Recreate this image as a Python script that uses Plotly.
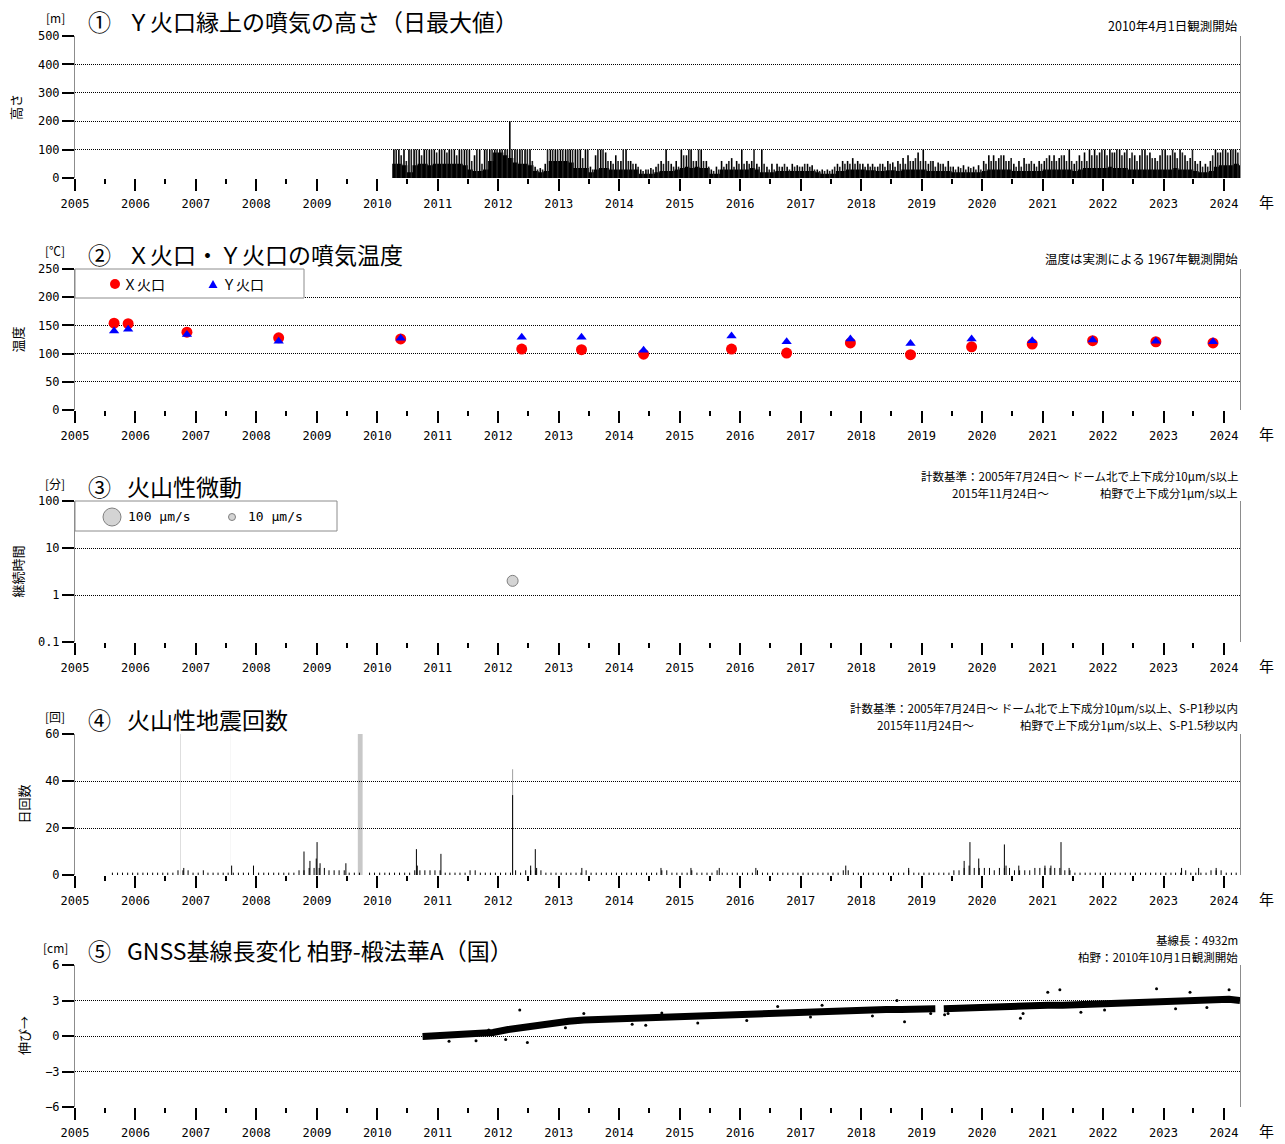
import pandas as pd
import plotly.graph_objects as go

# ---------------- DATA ----------------
# Panel 1: plume height above Y crater (monthly typical level / monthly peaks), from 2010-04
h_start = "2010-04-01"
h_base = [
    50, 50, 45, 20, 45, 50, 50, 45, 50,                      # 2010 Apr-Dec
    50, 50, 50, 50, 50, 45, 30, 25, 25, 30, 60, 90,          # 2011
    90, 80, 70, 55, 50, 50, 45, 25, 20, 25, 60, 60,          # 2012
    60, 60, 55, 35, 35, 35, 20, 30, 35, 35, 30, 30,          # 2013
    30, 30, 30, 30, 15, 15, 15, 20, 25, 25, 25, 30,          # 2014
    35, 40, 35, 40, 35, 35, 15, 15, 30, 30, 30, 30,          # 2015
    30, 30, 35, 30, 20, 20, 20, 25, 25, 25, 25, 25,          # 2016
    25, 25, 25, 20, 15, 15, 15, 25, 25, 30, 30, 30,          # 2017
    30, 27, 27, 25, 25, 27, 27, 25, 30, 30, 30, 30,          # 2018
    30, 25, 25, 25, 25, 25, 20, 20, 20, 20, 20, 20,          # 2019
    25, 30, 30, 30, 30, 30, 25, 25, 25, 25, 25, 25,          # 2020
    30, 30, 30, 30, 30, 30, 25, 30, 35, 35, 35, 35,          # 2021
    35, 40, 35, 35, 35, 30, 30, 30, 30, 30, 30, 30,          # 2022
    30, 30, 35, 30, 30, 30, 25, 20, 20, 25, 40, 45,          # 2023
    45, 45, 50, 45,                                          # 2024 Jan-Apr
]
h_peak = [
    100, 100, 100, 100, 100, 100, 100, 100, 100,
    100, 100, 100, 100, 100, 100, 100, 80, 100, 100, 100, 100,
    100, 100, 200, 100, 100, 100, 100, 40, 35, 50, 100, 100,
    100, 100, 100, 100, 100, 100, 40, 80, 100, 90, 60, 80,
    60, 100, 60, 50, 30, 30, 35, 40, 60, 100, 50, 60,
    100, 80, 100, 60, 100, 60, 30, 40, 60, 50, 70, 60,
    100, 60, 60, 50, 100, 40, 50, 50, 40, 40, 50, 45,
    40, 50, 45, 30, 30, 30, 30, 50, 60, 60, 70, 60,
    50, 50, 50, 40, 50, 60, 55, 60, 70, 80, 60, 90,
    100, 50, 60, 55, 50, 60, 40, 40, 45, 40, 40, 45,
    60, 80, 80, 70, 80, 60, 50, 60, 70, 50, 50, 60,
    60, 80, 80, 70, 80, 100, 50, 80, 90, 100, 100, 90,
    100, 100, 90, 100, 90, 70, 80, 80, 100, 90, 70, 80,
    100, 80, 90, 100, 80, 70, 60, 60, 50, 60, 100, 90,
    100, 100, 100, 100,
]
h_peak2 = [
    100, 80, 60, 100, 100, 80, 100, 100, 90,
    100, 90, 100, 80, 100, 100, 60, 100, 50, 100, 100, 100,
    100, 100, 100, 100, 100, 100, 60, 30, 30, 100, 100, 100,
    100, 100, 100, 100, 70, 100, 30, 100, 100, 60, 50, 60,
    100, 60, 50, 40, 25, 30, 30, 50, 50, 60, 40, 40,
    80, 100, 60, 100, 60, 40, 25, 30, 40, 60, 40, 50,
    50, 50, 100, 40, 50, 30, 30, 40, 50, 30, 40, 40,
    50, 40, 30, 25, 25, 25, 40, 40, 50, 50, 50, 50,
    40, 40, 40, 50, 40, 50, 40, 50, 50, 60, 70, 60,
    60, 60, 40, 50, 40, 40, 30, 35, 30, 35, 30, 30,
    50, 60, 60, 80, 60, 70, 40, 40, 50, 60, 40, 50,
    70, 60, 60, 80, 60, 60, 60, 60, 60, 80, 80, 100,
    80, 90, 100, 80, 100, 90, 60, 100, 80, 70, 60, 100,
    80, 100, 70, 90, 60, 100, 50, 40, 40, 80, 90, 100,
    90, 100, 90, 100,
]

# Panel 2: fumarole temperatures
t_dates = ["2005-08-25", "2005-11-18", "2006-11-08", "2008-05-15", "2010-05-22",
           "2012-05-22", "2013-05-18", "2014-05-28", "2015-11-10", "2016-10-08",
           "2017-10-28", "2018-10-26", "2019-10-30", "2020-10-30", "2021-10-30",
           "2022-11-16", "2023-10-27"]
t_x = [154, 153, 138, 128, 126, 108, 107, 99, 108, 101, 119, 98, 112, 117, 123, 121, 119]
t_y = [140, 143, 134, 122, 127, 129, 129, 106, 131, 121, 126, 118, 126, 123, 124, 122, 121]

# Panel 3: volcanic tremor (duration, minutes)
tr_dates = ["2012-03-28"]
tr_dur = [2.0]

# Panel 4: volcanic earthquakes per day (monthly max level from 2005-08, plus notable days)
eq_start = "2005-08-01"
eq_monthly = [
    1, 1, 1, 1, 1,                                # 2005 Aug-Dec
    1, 1, 1, 1, 1, 1, 1, 1, 2, 2, 2, 1,           # 2006
    1, 2, 1, 1, 1, 1, 1, 1, 1, 1, 1, 1,           # 2007
    1, 1, 1, 1, 1, 1, 1, 1, 2, 2, 3, 3,           # 2008
    3, 3, 2, 2, 2, 2, 1, 1, 1, 0, 1, 1,           # 2009
    1, 1, 1, 1, 1, 1, 1, 2, 2, 2, 2, 2,           # 2010
    2, 1, 1, 1, 1, 1, 2, 2, 1, 1, 1, 1,           # 2011
    1, 1, 1, 2, 1, 2, 2, 2, 2, 1, 1, 1,           # 2012
    1, 1, 1, 1, 1, 2, 1, 1, 1, 1, 1, 1,           # 2013
    1, 1, 1, 1, 1, 1, 1, 1, 2, 2, 1, 1,           # 2014
    1, 1, 2, 1, 1, 1, 1, 2, 1, 1, 1, 1,           # 2015
    1, 1, 1, 2, 1, 1, 1, 1, 1, 1, 1, 1,           # 2016
    1, 1, 1, 1, 1, 1, 1, 1, 2, 2, 1, 1,           # 2017
    1, 1, 1, 1, 1, 1, 1, 1, 1, 2, 1, 1,           # 2018
    1, 1, 1, 1, 1, 1, 2, 2, 3, 4, 3, 3,           # 2019
    3, 3, 2, 3, 3, 3, 2, 2, 2, 2, 3, 3,           # 2020
    3, 3, 3, 3, 2, 2, 1, 1, 1, 1, 1, 1,           # 2021
    1, 1, 1, 1, 1, 1, 1, 1, 1, 1, 1, 1,           # 2022
    1, 1, 1, 1, 2, 1, 1, 1, 1, 2, 2, 2,           # 2023
    1, 1, 1, 1,                                   # 2024 Jan-Apr
]
eq_spike_dates = ["2006-10-20", "2007-08-05", "2007-12-15", "2008-10-15", "2008-11-20",
                  "2008-12-28", "2009-01-02", "2009-01-20", "2009-06-25", "2010-08-25",
                  "2010-08-30", "2011-01-20", "2012-03-28", "2012-07-15", "2012-08-12",
                  "2012-08-20", "2013-05-20", "2014-09-10", "2015-03-10", "2015-08-28",
                  "2016-04-05", "2017-09-30", "2018-10-15", "2019-09-15", "2019-10-20",
                  "2019-12-12", "2020-05-15", "2020-05-25", "2020-08-10", "2021-01-15",
                  "2021-02-20", "2021-04-22", "2021-06-10", "2023-04-20", "2023-08-01",
                  "2023-11-15"]
eq_spike_counts = [3, 4, 4, 10, 6, 7, 14, 5, 5, 11, 4, 9, 34, 4, 11, 3, 3, 3, 3, 3,
                   3, 4, 3, 6, 14, 7, 13, 4, 4, 4, 4, 14, 3, 3, 3, 3]
eq_gray_dates = ["2012-03-28"]
eq_gray_counts = [45]
eq_gap_start = ["2006-09-28", "2007-07-30", "2009-09-05"]
eq_gap_end = ["2006-10-01", "2007-08-01", "2009-10-04"]
eq_gap_color = ["#bdbdbd", "#e6e6e6", "#c8c8c8"]

# Panel 5: GNSS baseline change (cm)
gnss_dates = ["2010-10-01", "2010-12-01", "2011-03-01", "2011-06-01", "2011-09-01", "2011-12-01",
              "2012-03-01", "2012-06-01", "2012-09-01", "2012-12-01", "2013-03-01", "2013-06-01",
              "2013-09-01", "2013-12-01", "2014-03-01", "2014-06-01", "2014-09-01", "2014-12-01",
              "2015-03-01", "2015-06-01", "2015-09-01", "2015-12-01", "2016-03-01", "2016-06-01",
              "2016-09-01", "2016-12-01", "2017-03-01", "2017-06-01", "2017-09-01", "2017-12-01",
              "2018-03-01", "2018-06-01", "2018-09-01", "2018-12-01", "2019-03-25", "2019-04-10",
              "2019-05-15", "2019-08-01", "2019-11-01", "2020-02-01", "2020-05-01", "2020-08-01",
              "2020-11-01", "2021-02-01", "2021-05-01", "2021-08-01", "2021-11-01", "2022-02-01",
              "2022-05-01", "2022-08-01", "2022-11-01", "2023-02-01", "2023-05-01", "2023-08-01",
              "2023-11-01", "2024-02-01", "2024-04-07"]
gnss_cm = [-0.05, 0.0, 0.05, 0.05, 0.1, 0.3,
           0.55, 0.75, 0.9, 1.1, 1.25, 1.35,
           1.4, 1.45, 1.5, 1.5, 1.55, 1.6,
           1.65, 1.7, 1.7, 1.75, 1.85, 1.95,
           2.0, 2.05, 2.1, 2.1, 2.15, 2.2,
           2.2, 2.25, 2.25, 2.3, 2.3, None,
           2.3, 2.35, 2.4, 2.4, 2.45, 2.45,
           2.5, 2.6, 2.6, 2.65, 2.7, 2.75,
           2.8, 2.8, 2.85, 2.9, 2.95, 3.0,
           3.05, 3.1, 3.0]
gnss_out_dates = ["2011-03-10", "2011-08-20", "2011-11-05", "2012-05-10", "2012-06-25", "2012-02-15",
                  "2013-02-10", "2013-06-01", "2014-03-20", "2014-06-10", "2014-09-15", "2015-04-20",
                  "2016-02-10", "2016-08-15", "2017-03-01", "2017-05-10", "2018-03-10", "2018-08-05",
                  "2018-09-20", "2019-02-25", "2019-05-20", "2019-06-10", "2020-08-20", "2020-09-05",
                  "2021-02-01", "2021-04-15", "2021-08-20", "2022-01-10", "2022-11-20", "2023-03-15",
                  "2023-06-10", "2023-09-20", "2024-02-01"]
gnss_out_cm = [-0.45, -0.4, 0.5, 2.2, -0.55, -0.3,
               0.7, 1.9, 1.0, 0.9, 1.95, 1.1,
               1.3, 2.5, 1.6, 2.6, 1.7, 3.0,
               1.2, 1.9, 1.8, 1.9, 1.5, 1.9,
               3.7, 3.9, 2.0, 2.2, 4.0, 2.3,
               3.7, 2.4, 3.9]

# ---------------- LAYOUT HELPERS ----------------
W, H = 1285, 1144
JP = "Noto Sans CJK JP"
MONO = "DejaVu Sans Mono"
XL, XR = 75, 1240
TOPS = [36, 269, 501, 734, 965]
BOTS = [178, 410, 642, 875, 1107]
X0, X1 = "2005-01-01", "2024-04-07"


def px(x):
    return x / W


def py(y):
    return 1 - y / H


def spikes(dates, vals, offset_days=0):
    xs, ys = [], []
    for d, v in zip(dates, vals):
        m = pd.Timestamp(d) + pd.Timedelta(days=offset_days)
        xs += [m, m, None]
        ys += [0, v, None]
    return xs, ys


fig = go.Figure()

# Panel 1
h_months = pd.date_range(h_start, periods=len(h_base), freq="MS")
fig.add_trace(go.Scatter(x=list(h_months) + [pd.Timestamp(X1)], y=h_base + [h_base[-1]],
                         mode="lines", line=dict(shape="hv", width=0, color="black"),
                         fill="tozeroy", fillcolor="black", xaxis="x", yaxis="y", showlegend=False))
xs, ys = spikes(h_months, h_peak2, 24)
fig.add_trace(go.Scatter(x=xs, y=ys, mode="lines", line=dict(color="#202020", width=1.6),
                         xaxis="x", yaxis="y", showlegend=False))
xs, ys = spikes(h_months, h_peak, 10)
fig.add_trace(go.Scatter(x=xs, y=ys, mode="lines", line=dict(color="black", width=1.6),
                         xaxis="x", yaxis="y", showlegend=False))

# Panel 2
fig.add_trace(go.Scatter(x=t_dates, y=t_x, mode="markers", name="X火口",
                         marker=dict(symbol="circle", size=11, color="red"),
                         xaxis="x2", yaxis="y2", showlegend=False))
fig.add_trace(go.Scatter(x=t_dates, y=t_y, mode="markers", name="Y火口",
                         marker=dict(symbol="triangle-up", size=9, color="blue"),
                         xaxis="x2", yaxis="y2", showlegend=False))

# Panel 3
fig.add_trace(go.Scatter(x=tr_dates, y=tr_dur, mode="markers",
                         marker=dict(symbol="circle", size=11, color="#d4d4d4",
                                     line=dict(color="#808080", width=1)),
                         xaxis="x3", yaxis="y3", showlegend=False))

# Panel 4
eq_months = pd.date_range(eq_start, periods=len(eq_monthly), freq="MS")
xs, ys = spikes(eq_months, eq_monthly, 14)
fig.add_trace(go.Scatter(x=xs, y=ys, mode="lines", line=dict(color="black", width=1),
                         xaxis="x4", yaxis="y4", showlegend=False))
xs, ys = spikes(eq_gray_dates, eq_gray_counts)
fig.add_trace(go.Scatter(x=xs, y=ys, mode="lines", line=dict(color="#a0a0a0", width=1),
                         xaxis="x4", yaxis="y4", showlegend=False))
xs, ys = spikes(eq_spike_dates, eq_spike_counts)
fig.add_trace(go.Scatter(x=xs, y=ys, mode="lines", line=dict(color="black", width=1),
                         xaxis="x4", yaxis="y4", showlegend=False))

# Panel 5
fig.add_trace(go.Scatter(x=gnss_dates, y=gnss_cm, mode="lines",
                         line=dict(color="black", width=7), connectgaps=False,
                         xaxis="x5", yaxis="y5", showlegend=False))
fig.add_trace(go.Scatter(x=gnss_out_dates, y=gnss_out_cm, mode="markers",
                         marker=dict(color="black", size=3),
                         xaxis="x5", yaxis="y5", showlegend=False))

# Axes
yspecs = [
    dict(range=[0, 500], tickvals=[0, 100, 200, 300, 400, 500]),
    dict(range=[0, 250], tickvals=[0, 50, 100, 150, 200, 250]),
    dict(type="log", range=[-1, 2], tickvals=[0.1, 1, 10, 100], ticktext=["0.1", "1", "10", "100"]),
    dict(range=[0, 60], tickvals=[0, 20, 40, 60]),
    dict(range=[-6, 6], tickvals=[-6, -3, 0, 3, 6]),
]
lay = {}
for i in range(5):
    sfx = "" if i == 0 else str(i + 1)
    dom = [py(BOTS[i]), py(TOPS[i])]
    lay["xaxis" + sfx] = dict(
        type="date", range=[X0, X1], domain=[px(XL), px(XR)], anchor="y" + sfx,
        automargin=False, showgrid=False, zeroline=False, showline=False,
        ticks="outside", ticklen=12, tickwidth=2, tickcolor="black",
        dtick="M12", tick0="2005-01-01", tickformat="%Y", ticklabelstandoff=3,
        tickfont=dict(family=MONO, size=12, color="black"),
        minor=dict(ticks="outside", ticklen=5, tickwidth=2, tickcolor="black",
                   dtick="M6", tick0="2005-01-01", showgrid=False),
        fixedrange=True,
    )
    yd = dict(
        domain=dom, anchor="x" + sfx, automargin=False,
        ticks="outside", ticklen=12, tickwidth=2, tickcolor="black",
        showgrid=True, gridcolor="black", gridwidth=1, griddash="1px,1px",
        showline=True, linecolor="#8c8c8c", linewidth=1, mirror=True,
        zeroline=False, tickfont=dict(family=MONO, size=12, color="black"),
        fixedrange=True,
    )
    yd.update(yspecs[i])
    lay["yaxis" + sfx] = yd

shapes = []
# data gaps in panel 4
for s, e, c in zip(eq_gap_start, eq_gap_end, eq_gap_color):
    shapes.append(dict(type="rect", xref="x4", yref="y4 domain", x0=s, x1=e, y0=0, y1=1,
                       fillcolor=c, line=dict(width=0), layer="below"))

# legend boxes
shapes.append(dict(type="rect", xref="paper", yref="paper", x0=px(75), x1=px(304),
                   y0=py(298), y1=py(269), fillcolor="white", line=dict(color="#8c8c8c", width=1)))
shapes.append(dict(type="circle", xref="paper", yref="paper", x0=px(110), x1=px(120),
                   y0=py(289), y1=py(279), fillcolor="red", line=dict(width=0)))
shapes.append(dict(type="path", xref="paper", yref="paper",
                   path=f"M {px(208.5)},{py(288)} L {px(217.5)},{py(288)} L {px(213)},{py(280)} Z",
                   fillcolor="blue", line=dict(width=0)))
shapes.append(dict(type="rect", xref="paper", yref="paper", x0=px(75), x1=px(337),
                   y0=py(531), y1=py(501), fillcolor="white", line=dict(color="#8c8c8c", width=1)))
shapes.append(dict(type="circle", xref="paper", yref="paper", x0=px(103), x1=px(121),
                   y0=py(526), y1=py(508), fillcolor="#d4d4d4", line=dict(color="#808080", width=1)))
shapes.append(dict(type="circle", xref="paper", yref="paper", x0=px(228.5), x1=px(235.5),
                   y0=py(520.5), y1=py(513.5), fillcolor="#d4d4d4", line=dict(color="#808080", width=1)))

annotations = []


def ann(text, x, y, size, xanchor="left", family=JP, angle=0, align="left"):
    annotations.append(dict(text=text, x=px(x), y=py(y), xref="paper", yref="paper",
                            xanchor=xanchor, yanchor="middle", showarrow=False, textangle=angle,
                            align=align, font=dict(family=family, size=size, color="black")))


units = ["[m]", "[℃]", "[分]", "[回]", "[cm]"]
nums = ["①", "②", "③", "④", "⑤"]
titles = ["Ｙ火口縁上の噴気の高さ（日最大値）", "Ｘ火口・Ｙ火口の噴気温度", "火山性微動",
          "火山性地震回数", "GNSS基線長変化 柏野-椴法華A（国）"]
ylabels = ["高さ", "温度", "継続時間", "日回数", "伸び→"]
ylabx = [15, 17, 17, 23, 23]
for i in range(5):
    ann(units[i], 55, TOPS[i] - 18, 12, xanchor="center")
    ann(nums[i], 86, TOPS[i] - 15, 23)
    ann(titles[i], 125, TOPS[i] - 15, 23)
    ann("年", 1266, BOTS[i] + 23, 15, xanchor="center")
    ann(ylabels[i], ylabx[i], (TOPS[i] + BOTS[i]) / 2, 13, xanchor="center", angle=-90)

NS = 11.5
ann("2010年4月1日観測開始", 1240, TOPS[0] - 10, 12.5, xanchor="right")
ann("温度は実測による 1967年観測開始", 1240, TOPS[1] - 11, 12.5, xanchor="right")
ann("計数基準：2005年7月24日～ ドーム北で上下成分10μm/s以上", 1240, TOPS[2] - 25, NS, xanchor="right")
ann("2015年11月24日～", 950, TOPS[2] - 8, NS)
ann("柏野で上下成分1μm/s以上", 1240, TOPS[2] - 8, NS, xanchor="right")
ann("計数基準：2005年7月24日～ ドーム北で上下成分10μm/s以上、S-P1秒以内", 1240, TOPS[3] - 26, NS, xanchor="right")
ann("2015年11月24日～", 875, TOPS[3] - 9, NS)
ann("柏野で上下成分1μm/s以上、S-P1.5秒以内", 1240, TOPS[3] - 9, NS, xanchor="right")
ann("基線長：4932m", 1240, TOPS[4] - 25, NS, xanchor="right")
ann("柏野：2010年10月1日観測開始", 1240, TOPS[4] - 8, NS, xanchor="right")

# legend labels
ann("Ｘ火口", 121, 284, 14)
ann("Ｙ火口", 220, 284, 14)
ann("100 μm/s", 126, 517, 13, family=MONO)
ann("10 μm/s", 246, 517, 13, family=MONO)

fig.update_layout(
    width=W, height=H, margin=dict(l=0, r=0, t=0, b=0, autoexpand=False),
    paper_bgcolor="white", plot_bgcolor="white",
    showlegend=False, shapes=shapes, annotations=annotations,
    font=dict(family=JP, color="black"),
    **lay,
)

fig.write_html("out.html", config={"displayModeBar": False},
               post_script="document.body.style.margin='0';document.body.style.overflow='hidden';")
